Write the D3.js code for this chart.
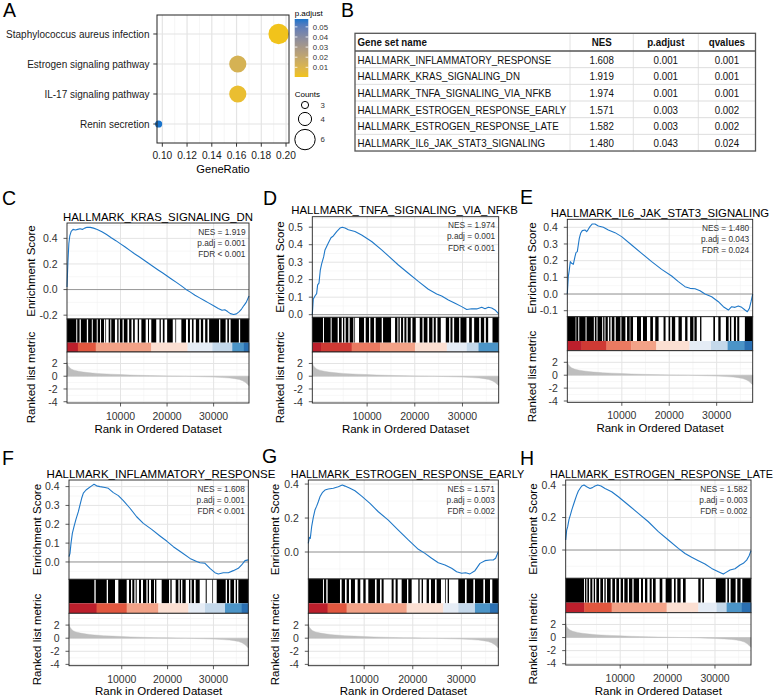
<!DOCTYPE html>
<html>
<head>
<meta charset="utf-8">
<script src="https://cdn.jsdelivr.net/npm/d3@7/dist/d3.min.js"></script>
<style>
html,body{margin:0;padding:0;background:#fff;}
svg{display:block;}
</style>
</head>
<body>
<svg id="fig" width="777" height="697" xmlns="http://www.w3.org/2000/svg"></svg>
<script>
// ======================= DATA =======================
// ---- Panel A : KEGG dot plot ----
const pathways = ["Staphylococcus aureus infection", "Estrogen signaling pathway", "IL-17 signaling pathway", "Renin secretion"];
const geneRatio = [0.194, 0.161, 0.161, 0.097];
const geneCount = [6, 5, 5, 3];
const pAdjust = [0.0004, 0.012, 0.0035, 0.0578];
const geneRatioTicks = [0.10, 0.12, 0.14, 0.16, 0.18, 0.20];
const pAdjustTicks = [0.01, 0.02, 0.03, 0.04, 0.05];
const countLegend = [3, 4, 6];

// ---- Panel B : GSEA table ----
const tableColumns = ["Gene set name", "NES", "p.adjust", "qvalues"];
const tableGeneSets = ["HALLMARK_INFLAMMATORY_RESPONSE", "HALLMARK_KRAS_SIGNALING_DN", "HALLMARK_TNFA_SIGNALING_VIA_NFKB", "HALLMARK_ESTROGEN_RESPONSE_EARLY", "HALLMARK_ESTROGEN_RESPONSE_LATE", "HALLMARK_IL6_JAK_STAT3_SIGNALING"];
const tableNES = ["1.608", "1.919", "1.974", "1.571", "1.582", "1.480"];
const tablePadj = ["0.001", "0.001", "0.001", "0.003", "0.003", "0.043"];
const tableQ = ["0.001", "0.001", "0.001", "0.002", "0.002", "0.024"];

// ---- GSEA plots (shared) ----
const rankDomain = [-1500, 37600];
const rankTicks = [10000, 20000, 30000];
const metricDomain = [-4.2, 3.8];
const metricTicks = [-4, -2, 0, 2];
const rankedMetric = [[-1500,2.2],[-1300,1.7],[-1000,1.4],[-600,1.15],[0,0.95],[1000,0.78],[2000,0.66],[3000,0.57],[4000,0.5],[5000,0.44],[6000,0.39],[8000,0.32],[10000,0.26],[12000,0.2],[14000,0.15],[16000,0.11],[18000,0.08],[20000,0.05],[22000,0.02],[24000,-0.01],[26000,-0.05],[28000,-0.09],[30000,-0.14],[32000,-0.21],[33500,-0.29],[34500,-0.38],[35500,-0.52],[36200,-0.7],[36800,-0.95],[37200,-1.2],[37600,-1.5]];

// ---- Panel C ----
const titleC = "HALLMARK_KRAS_SIGNALING_DN";
const statsC = ["NES = 1.919", "p.adj = 0.001", "FDR < 0.001"];
const esTicksC = [-0.2, 0.0, 0.2, 0.4];
const esDomainC = [-0.23, 0.52];
const esC = [[-1500,0.02],[-1300,0.22],[-1100,0.36],[-900,0.42],[-600,0.455],[-200,0.47],[300,0.465],[800,0.47],[1300,0.475],[1800,0.47],[2300,0.48],[2800,0.487],[3500,0.486],[4200,0.48],[5000,0.47],[6000,0.452],[7000,0.43],[8000,0.405],[9000,0.382],[10000,0.357],[11000,0.333],[12000,0.306],[13000,0.28],[14000,0.256],[15000,0.231],[16000,0.205],[17000,0.18],[18000,0.155],[19000,0.131],[20000,0.106],[21000,0.081],[22000,0.056],[23000,0.031],[24000,0.003],[25000,-0.02],[26000,-0.044],[27000,-0.065],[28000,-0.086],[29000,-0.106],[30000,-0.127],[31000,-0.148],[31800,-0.162],[32400,-0.158],[33000,-0.172],[33600,-0.188],[34300,-0.195],[34900,-0.19],[35500,-0.172],[36000,-0.152],[36500,-0.125],[37000,-0.1],[37600,-0.05]];
const hitsC = [[-1500,490],[700,1200],[1480,2760],[3040,3830],[4040,4890],[5100,5600],[5810,6450],[6740,6880],[7450,7800],[8010,8800],[9290,9580],[9860,10430],[10710,11490],[11850,12350],[12700,13060],[13690,13980],[14480,15400],[15900,16110],[16610,17670],[18380,18660],[19090,19450],[20010,21220],[21790,21930],[23070,24060],[24490,24910],[25340,25690],[26190,26900],[27260,27750],[28180,28680],[29030,31160],[31440,32580],[32940,33290],[33650,35420],[35700,37600]];
const bandBreaksC = [-1500, 840, 4680, 16600, 24400, 29740, 34000, 36490, 37600];
const bandLevelsC = [0, 2, 4, 6, 7, 8, 10, 11];

// ---- Panel D ----
const titleD = "HALLMARK_TNFA_SIGNALING_VIA_NFKB";
const statsD = ["NES = 1.974", "p.adj = 0.001", "FDR < 0.001"];
const esTicksD = [0.0, 0.1, 0.2, 0.3, 0.4, 0.5];
const esDomainD = [-0.015, 0.56];
const esD = [[-1500,0.0],[-1290,0.09],[-940,0.107],[-590,0.12],[-380,0.17],[-100,0.18],[180,0.255],[460,0.29],[670,0.31],[880,0.33],[1160,0.37],[1510,0.39],[1860,0.41],[2420,0.44],[2910,0.45],[3610,0.475],[4310,0.495],[4800,0.5],[5360,0.495],[6060,0.485],[7450,0.475],[8850,0.455],[10950,0.418],[13050,0.37],[14450,0.336],[16550,0.284],[18650,0.237],[20740,0.19],[22840,0.145],[24590,0.118],[25640,0.107],[27040,0.084],[28440,0.065],[29840,0.046],[30890,0.03],[31940,0.034],[32990,0.033],[34040,0.042],[34730,0.034],[35430,0.042],[36130,0.038],[36830,0.027],[37600,0.004]];
const hitsD = [[-1500,740],[950,2350],[2560,3820],[4100,4660],[4940,5220],[5500,6060],[6340,7110],[7320,7460],[8300,9350],[9700,10400],[10680,11450],[11800,13060],[13340,15020],[15860,16350],[16560,16840],[17120,17540],[17820,18240],[18520,19150],[19500,20200],[21040,21600],[21880,22650],[23000,23700],[23980,24400],[24750,25450],[26500,27200],[27480,27900],[28250,29300],[29580,30840],[31400,31960],[32450,33500],[33850,34550],[34900,35390],[36300,37600]];
const bandBreaksD = [-1500, 320, 6760, 12710, 20060, 26710, 30910, 33360, 37600];
const bandLevelsD = [0, 1, 3, 4, 6, 7, 8, 10];

// ---- Panel E ----
const titleE = "HALLMARK_IL6_JAK_STAT3_SIGNALING";
const statsE = ["NES = 1.480", "p.adj = 0.043", "FDR = 0.024"];
const esTicksE = [-0.1, 0.0, 0.1, 0.2, 0.3, 0.4];
const esDomainE = [-0.136, 0.448];
const esE = [[-1500,0.0],[-1290,0.104],[-1080,0.144],[-870,0.194],[-590,0.184],[-230,0.178],[120,0.224],[330,0.248],[610,0.254],[820,0.294],[1030,0.334],[1310,0.364],[1660,0.38],[2230,0.384],[2580,0.374],[2930,0.388],[3280,0.404],[3770,0.42],[4340,0.42],[5040,0.408],[6100,0.4],[7150,0.384],[8560,0.368],[9960,0.344],[12070,0.294],[14180,0.244],[16290,0.194],[18400,0.148],[20510,0.108],[21920,0.074],[23320,0.044],[24380,0.034],[25430,0.032],[26490,0.02],[27540,0.0],[28950,-0.016],[30360,-0.046],[31410,-0.076],[32470,-0.096],[33170,-0.076],[33870,-0.08],[34570,-0.072],[35280,-0.08],[35980,-0.096],[36470,-0.106],[36900,-0.086],[37250,-0.046],[37600,0.0]];
const hitsE = [[-1500,250],[390,810],[1020,2350],[2560,4100],[4310,4660],[4870,5850],[6060,6340],[6550,7040],[7320,7600],[7880,8440],[8720,9700],[9910,10750],[11100,11660],[11800,12360],[13200,14040],[14460,15300],[16000,16560],[17050,17750],[18800,19220],[19850,20200],[20550,21250],[21950,22650],[23350,23840],[24400,25100],[25310,25800],[26500,26780],[29300,29650],[30350,30840],[31960,32520],[32800,33080],[33640,34060],[34340,34760],[35950,37600]];
const bandBreaksE = [-1500, 1510, 6760, 12010, 17260, 24260, 28810, 32310, 35810, 37600];
const bandLevelsE = [0, 1, 3, 4, 6, 7, 8, 10, 11];

// ---- Panel F ----
const titleF = "HALLMARK_INFLAMMATORY_RESPONSE";
const statsF = ["NES = 1.608", "p.adj = 0.001", "FDR < 0.001"];
const esTicksF = [0.0, 0.1, 0.2, 0.3, 0.4];
const esDomainF = [-0.092, 0.435];
const esF = [[-1500,0.028],[-1280,0.046],[-1060,0.1],[-770,0.152],[-410,0.188],[30,0.227],[540,0.267],[900,0.303],[1260,0.338],[1630,0.365],[2210,0.382],[2720,0.391],[3440,0.404],[3950,0.412],[4530,0.404],[5260,0.4],[6350,0.395],[7080,0.391],[8170,0.368],[9260,0.352],[10350,0.326],[11800,0.285],[13250,0.24],[14710,0.205],[16530,0.173],[18340,0.138],[19800,0.111],[21250,0.081],[23070,0.05],[24880,0.019],[26340,0.002],[27060,-0.004],[28150,-0.007],[29240,-0.034],[30330,-0.057],[31060,-0.064],[32150,-0.057],[33240,-0.057],[34330,-0.046],[35420,-0.034],[36150,-0.016],[36880,0.007],[37600,0.011]];
const hitsF = [[-1500,4030],[4320,6720],[7010,8530],[9260,11080],[11590,12020],[12310,12750],[13040,13260],[13770,14200],[14640,15370],[15660,15950],[16380,17040],[17260,17550],[18710,20310],[20600,20890],[21760,22350],[22640,22930],[23220,23950],[24670,24960],[25250,25760],[26130,27000],[28310,28530],[29760,29910],[30710,32670],[32960,33400],[33690,34490],[34850,35140],[35430,37600]];
const bandBreaksF = [-1500, 4530, 11080, 17980, 24530, 28160, 32520, 36160, 37600];
const bandLevelsF = [0, 2, 4, 6, 7, 8, 10, 11];

// ---- Panel G ----
const titleG = "HALLMARK_ESTROGEN_RESPONSE_EARLY";
const statsG = ["NES = 1.571", "p.adj = 0.003", "FDR = 0.002"];
const esTicksG = [0.0, 0.2, 0.4];
const esDomainG = [-0.159, 0.424];
const esG = [[-1500,0.051],[-1290,0.086],[-1090,0.08],[-810,0.149],[-470,0.204],[-130,0.247],[220,0.27],[560,0.296],[900,0.325],[1380,0.349],[1930,0.365],[2620,0.371],[3650,0.375],[4670,0.384],[5500,0.394],[6050,0.388],[7080,0.375],[8100,0.361],[9480,0.329],[11190,0.286],[12910,0.237],[14960,0.188],[17020,0.129],[19080,0.071],[21140,0.016],[22510,-0.008],[23880,-0.037],[25250,-0.063],[26630,-0.076],[28000,-0.096],[29030,-0.116],[30060,-0.125],[30880,-0.122],[31770,-0.129],[32800,-0.11],[33830,-0.067],[34860,-0.051],[35890,-0.047],[36570,-0.047],[37050,-0.037],[37600,0.002]];
const hitsG = [[-1500,1520],[1720,2200],[2480,5020],[5360,6050],[6390,6870],[7280,8100],[8650,9200],[9820,10300],[10850,12220],[12560,13250],[13590,14000],[15650,16060],[16470,16890],[17710,18810],[19080,19770],[21140,21410],[21820,22100],[22850,23330],[23750,24570],[24910,25800],[26630,26760],[27180,27450],[29370,30740],[31090,32460],[32800,34520],[34860,35890],[36370,37600]];
const bandBreaksG = [-1500, 2480, 6390, 18740, 26280, 29370, 32800, 35890, 37600];
const bandLevelsG = [0, 2, 4, 6, 7, 8, 10, 11];

// ---- Panel H ----
const titleH = "HALLMARK_ESTROGEN_RESPONSE_LATE";
const statsH = ["NES = 1.582", "p.adj = 0.003", "FDR = 0.002"];
const esTicksH = [0.0, 0.2, 0.4];
const esDomainH = [-0.174, 0.431];
const esH = [[-1500,0.062],[-1290,0.123],[-1080,0.144],[-800,0.189],[-520,0.215],[-230,0.246],[120,0.277],[470,0.308],[820,0.338],[1170,0.363],[1520,0.379],[1880,0.394],[2370,0.4],[2930,0.39],[3630,0.379],[4130,0.384],[4690,0.394],[5250,0.4],[5950,0.394],[6800,0.379],[8200,0.359],[9610,0.328],[11720,0.277],[13830,0.226],[15940,0.174],[18050,0.113],[20160,0.062],[22270,0.01],[23680,-0.021],[25080,-0.045],[26490,-0.066],[27890,-0.086],[29300,-0.113],[30710,-0.133],[31760,-0.148],[32250,-0.139],[33170,-0.123],[34220,-0.115],[35280,-0.092],[35980,-0.082],[36680,-0.062],[37180,-0.037],[37600,-0.004]];
const hitsH = [[-1500,2370],[2580,2860],[3070,3420],[3700,4120],[4410,4690],[4970,5530],[5810,6370],[6660,6940],[7220,7990],[8340,8900],[9190,9750],[10100,10590],[10870,11580],[11860,12560],[12840,13970],[14390,14810],[15230,15720],[16220,16640],[16920,17480],[18330,18890],[19590,20860],[21350,21700],[22050,22750],[23250,23810],[26480,26970],[27320,27680],[30190,32240],[32600,32950],[33300,34350],[34700,35410],[35760,37600]];
const bandBreaksH = [-1500, 2440, 8200, 19800, 26480, 30350, 32460, 35620, 37600];
const bandLevelsH = [0, 2, 4, 6, 7, 8, 10, 11];

// ======================= STYLE / LAYOUT =======================
const FONT = '"Liberation Sans", Arial, Helvetica, sans-serif';
const TFONT = '"Liberation Sans Narrow", "Arial Narrow", "Liberation Sans", Arial, sans-serif';
const bandPalette = ["#BC1F2C","#CF3A34","#E1573F","#EA7A61","#F2A287","#F8C9B4","#FBDFD2","#E5ECF5","#C4D8EA","#8FBCDB","#4B94C7","#2A6FB1"];
const ES_COLOR = "#1F78C8";
const BORDER = "#222";
const GRID_MAJ = "#E4E4E4", GRID_MIN = "#F1F1F1";
const TICKTXT = "#333";

const svg = d3.select("#fig");
svg.append("rect").attr("width", 777).attr("height", 697).attr("fill", "#fff");

function panelLabel(t, x, y) {
  svg.append("text").attr("x", x).attr("y", y).attr("font-family", FONT)
    .attr("font-size", 19.5).attr("fill", "#000").text(t);
}
panelLabel("A", 3, 17); panelLabel("B", 341, 16.5);
panelLabel("C", 2, 205); panelLabel("D", 263, 205); panelLabel("E", 520, 204);
panelLabel("F", 2, 465); panelLabel("G", 262, 463); panelLabel("H", 520, 465);

// ======================= PANEL A =======================
(function () {
  const A = {x0: 157, x1: 289, y0: 15, y1: 143};
  const g = svg.append("g");
  const x = d3.scaleLinear().domain([0.0957, 0.2024]).range([A.x0, A.x1]);
  const y = d3.scalePoint().domain(pathways).range([A.y0, A.y1]).padding(0.633);
  const r = d3.scaleRadial().domain([3, 6]).range([3.6, 10.2]);
  const col = d3.scaleLinear().domain([d3.min(pAdjust), d3.max(pAdjust)])
    .range(["#F1C31B", "#1A74CC"]).interpolate(d3.interpolateLab);

  g.append("rect").attr("x", A.x0).attr("y", A.y0).attr("width", A.x1 - A.x0).attr("height", A.y1 - A.y0).attr("fill", "#fff");
  const minorX = geneRatioTicks.slice(0, -1).map((t, i) => (t + geneRatioTicks[i + 1]) / 2);
  g.selectAll(".mnx").data(minorX).join("line")
    .attr("x1", d => x(d)).attr("x2", d => x(d)).attr("y1", A.y0).attr("y2", A.y1)
    .attr("stroke", GRID_MIN).attr("stroke-width", 0.7);
  g.selectAll(".mjx").data(geneRatioTicks).join("line")
    .attr("x1", d => x(d)).attr("x2", d => x(d)).attr("y1", A.y0).attr("y2", A.y1)
    .attr("stroke", GRID_MAJ).attr("stroke-width", 1.2);
  g.selectAll(".mjy").data(pathways).join("line")
    .attr("x1", A.x0).attr("x2", A.x1).attr("y1", d => y(d)).attr("y2", d => y(d))
    .attr("stroke", GRID_MAJ).attr("stroke-width", 1.2);

  g.selectAll(".pt").data(pathways).join("circle")
    .attr("cx", (d, i) => x(geneRatio[i])).attr("cy", d => y(d))
    .attr("r", (d, i) => r(geneCount[i])).attr("fill", (d, i) => col(pAdjust[i]));

  g.append("rect").attr("x", A.x0).attr("y", A.y0).attr("width", A.x1 - A.x0).attr("height", A.y1 - A.y0)
    .attr("fill", "none").attr("stroke", BORDER).attr("stroke-width", 1);

  g.selectAll(".ytk").data(pathways).join("line")
    .attr("x1", A.x0 - 3.7).attr("x2", A.x0).attr("y1", d => y(d)).attr("y2", d => y(d)).attr("stroke", "#333");
  g.selectAll(".ylb").data(pathways).join("text")
    .attr("x", A.x0 - 7.5).attr("y", d => y(d) + 3.6).attr("text-anchor", "end")
    .attr("font-family", FONT).attr("font-size", 10).attr("fill", "#1a1a1a").text(d => d);
  g.selectAll(".xtk").data(geneRatioTicks).join("line")
    .attr("x1", d => x(d)).attr("x2", d => x(d)).attr("y1", A.y1).attr("y2", A.y1 + 3.7).attr("stroke", "#333");
  g.selectAll(".xlb").data(geneRatioTicks).join("text")
    .attr("x", d => x(d)).attr("y", A.y1 + 15.8).attr("text-anchor", "middle")
    .attr("font-family", FONT).attr("font-size", 10.2).attr("fill", "#1a1a1a").text(d => d.toFixed(2));
  g.append("text").attr("x", (A.x0 + A.x1) / 2).attr("y", A.y1 + 30).attr("text-anchor", "middle")
    .attr("font-family", FONT).attr("font-size", 11.2).attr("fill", "#000").text("GeneRatio");

  // colour legend
  const cb = {x: 294.7, y0: 19, y1: 77, w: 13.6};
  const yc = d3.scaleLinear().domain(col.domain()).range([cb.y1, cb.y0]);
  const grad = svg.append("defs").append("linearGradient").attr("id", "padjGrad")
    .attr("x1", 0).attr("y1", 1).attr("x2", 0).attr("y2", 0);
  d3.range(0, 1.0001, 0.1).forEach(t => {
    const v = col.domain()[0] + t * (col.domain()[1] - col.domain()[0]);
    grad.append("stop").attr("offset", t).attr("stop-color", col(v));
  });
  g.append("text").attr("x", cb.x).attr("y", 15.5).attr("font-family", FONT).attr("font-size", 8).attr("fill", "#000").text("p.adjust");
  g.append("rect").attr("x", cb.x).attr("y", cb.y0).attr("width", cb.w).attr("height", cb.y1 - cb.y0).attr("fill", "url(#padjGrad)");
  pAdjustTicks.forEach(t => {
    g.append("line").attr("x1", cb.x).attr("x2", cb.x + 2.7).attr("y1", yc(t)).attr("y2", yc(t)).attr("stroke", "#fff").attr("stroke-width", 0.8);
    g.append("line").attr("x1", cb.x + cb.w - 2.7).attr("x2", cb.x + cb.w).attr("y1", yc(t)).attr("y2", yc(t)).attr("stroke", "#fff").attr("stroke-width", 0.8);
    g.append("text").attr("x", cb.x + cb.w + 4.5).attr("y", yc(t) + 2.8).attr("font-family", FONT).attr("font-size", 7.8).attr("fill", "#333").text(t.toFixed(2));
  });

  // size legend
  g.append("text").attr("x", cb.x).attr("y", 96.5).attr("font-family", FONT).attr("font-size", 8).attr("fill", "#000").text("Counts");
  let cy = 105;
  countLegend.forEach((c, i) => {
    if (i > 0) cy += r(countLegend[i - 1]) + 3.8 + r(c);
    g.append("circle").attr("cx", 305).attr("cy", cy).attr("r", r(c)).attr("fill", "#fff").attr("stroke", "#000").attr("stroke-width", 1);
    g.append("text").attr("x", 320.5).attr("y", cy + 2.8).attr("font-family", FONT).attr("font-size", 7.8).attr("fill", "#333").text(c);
  });
})();

// ======================= PANEL B =======================
(function () {
  const T = {x0: 355, x1: 755.5, y0: 33.3, headH: 17.7, rowH: 16.67};
  const colEdges = [355, 570, 633.3, 698.3, 755.5];
  const g = svg.append("g");
  const yEnd = T.y0 + T.headH + tableGeneSets.length * T.rowH;
  const tmp = g.append("text").attr("font-family", TFONT).attr("font-size", 11.8).text(tableGeneSets[0]);
  const w = tmp.node().getComputedTextLength(); tmp.remove();
  const sx = Math.min(1, 194 / w);

  g.append("rect").attr("x", T.x0).attr("y", T.y0).attr("width", T.x1 - T.x0).attr("height", yEnd - T.y0).attr("fill", "#fff");
  tableGeneSets.forEach((s, i) => {
    if (i === 0) return;
    const yy = T.y0 + T.headH + i * T.rowH;
    g.append("line").attr("x1", T.x0).attr("x2", T.x1).attr("y1", yy).attr("y2", yy).attr("stroke", "#d4d4d4").attr("stroke-width", 0.8);
  });
  colEdges.slice(1, -1).forEach(cx => {
    g.append("line").attr("x1", cx).attr("x2", cx).attr("y1", T.y0).attr("y2", yEnd).attr("stroke", "#dadada").attr("stroke-width", 0.8);
  });
  g.append("line").attr("x1", T.x0).attr("x2", T.x1).attr("y1", T.y0 + T.headH).attr("y2", T.y0 + T.headH).attr("stroke", "#555").attr("stroke-width", 1.3);
  g.append("rect").attr("x", T.x0).attr("y", T.y0).attr("width", T.x1 - T.x0).attr("height", yEnd - T.y0)
    .attr("fill", "none").attr("stroke", "#555").attr("stroke-width", 1.3);

  function cell(txt, x, y, anchor, bold) {
    g.append("g").attr("transform", `translate(${x},${y}) scale(${sx},1)`)
      .append("text").attr("x", 0).attr("y", 0).attr("text-anchor", anchor)
      .attr("font-family", TFONT).attr("font-size", 11.8).attr("font-weight", bold ? "bold" : "normal")
      .attr("fill", "#111").text(txt);
  }
  const hy = T.y0 + T.headH / 2 + 4.2;
  tableColumns.forEach((c, j) => {
    if (j === 0) cell(c, colEdges[0] + 2.5, hy, "start", true);
    else cell(c, (colEdges[j] + colEdges[j + 1]) / 2, hy, "middle", true);
  });
  tableGeneSets.forEach((s, i) => {
    const yy = T.y0 + T.headH + i * T.rowH + T.rowH / 2 + 4.2;
    cell(s, colEdges[0] + 2.5, yy, "start", false);
    [tableNES[i], tablePadj[i], tableQ[i]].forEach((v, j) => {
      cell(v, (colEdges[j + 1] + colEdges[j + 2]) / 2, yy, "middle", false);
    });
  });
})();

// ======================= GSEA PANELS =======================
function drawGSEA(L, D) {
  const g = svg.append("g");
  const x = d3.scaleLinear().domain(rankDomain).range([L.x0, L.x1]);
  const yE = d3.scaleLinear().domain(D.esDomain).range([L.esBot, L.esTop]);
  const yR = d3.scaleLinear().domain(metricDomain).range([L.rankBot, L.bandBot]);
  const W = L.x1 - L.x0;
  const minorX = x.ticks(8).filter(t => !rankTicks.includes(t) && t > 0);
  function minors(ticks, dom) {
    const st = ticks[1] - ticks[0];
    const m = [ticks[0] - st / 2].concat(ticks.map(t => t + st / 2));
    return m.filter(v => v > dom[0] && v < dom[1]);
  }
  const fmt1 = v => (Math.abs(v) < 1e-9 ? "0.0" : v.toFixed(1));

  // ---- ES panel ----
  g.append("rect").attr("x", L.x0).attr("y", L.esTop).attr("width", W).attr("height", L.esBot - L.esTop).attr("fill", "#fff");
  const esMinY = minors(D.esTicks, D.esDomain);
  g.selectAll(".emy").data(esMinY).join("line").attr("x1", L.x0).attr("x2", L.x1)
    .attr("y1", d => yE(d)).attr("y2", d => yE(d)).attr("stroke", GRID_MIN).attr("stroke-width", 0.6);
  g.selectAll(".emx").data(minorX).join("line").attr("y1", L.esTop).attr("y2", L.esBot)
    .attr("x1", d => x(d)).attr("x2", d => x(d)).attr("stroke", GRID_MIN).attr("stroke-width", 0.6);
  g.selectAll(".eMy").data(D.esTicks).join("line").attr("x1", L.x0).attr("x2", L.x1)
    .attr("y1", d => yE(d)).attr("y2", d => yE(d)).attr("stroke", GRID_MAJ).attr("stroke-width", 1);
  g.selectAll(".eMx").data(rankTicks).join("line").attr("y1", L.esTop).attr("y2", L.esBot)
    .attr("x1", d => x(d)).attr("x2", d => x(d)).attr("stroke", GRID_MAJ).attr("stroke-width", 1);
  g.append("line").attr("x1", L.x0).attr("x2", L.x1).attr("y1", yE(0)).attr("y2", yE(0))
    .attr("stroke", "#9a9a9a").attr("stroke-width", 1);
  g.append("path").datum(D.es)
    .attr("d", d3.line().x(d => x(d[0])).y(d => yE(d[1])))
    .attr("fill", "none").attr("stroke", ES_COLOR).attr("stroke-width", 1.1).attr("stroke-linejoin", "round");
  g.append("rect").attr("x", L.x0).attr("y", L.esTop).attr("width", W).attr("height", L.esBot - L.esTop)
    .attr("fill", "none").attr("stroke", BORDER).attr("stroke-width", 0.9);
  g.selectAll(".etk").data(D.esTicks).join("line").attr("x1", L.x0 - 3.5).attr("x2", L.x0)
    .attr("y1", d => yE(d)).attr("y2", d => yE(d)).attr("stroke", "#333").attr("stroke-width", 0.8);
  g.selectAll(".elb").data(D.esTicks).join("text").attr("x", L.x0 - 9.5).attr("y", d => yE(d) + 3.8)
    .attr("text-anchor", "end").attr("font-family", FONT).attr("font-size", 10.5).attr("fill", TICKTXT).text(fmt1);
  g.selectAll(".st").data(D.stats).join("text").attr("x", L.x1 - 3.5).attr("y", (d, i) => L.esTop + 11.5 + i * 11.2)
    .attr("text-anchor", "end").attr("font-family", FONT).attr("font-size", 8.3).attr("fill", "#333").text(d => d);
  g.append("text").attr("x", L.titleX).attr("y", L.esTop - 2.5).attr("text-anchor", "middle")
    .attr("font-family", FONT).attr("font-size", L.titleSize).attr("fill", "#000").text(D.title);
  g.append("text").attr("transform", `translate(${L.x0 - L.ylab},${(L.esTop + L.esBot) / 2}) rotate(-90)`)
    .attr("text-anchor", "middle").attr("font-family", FONT).attr("font-size", 11.5).attr("fill", "#000").text("Enrichment Score");

  // ---- hits ----
  g.append("rect").attr("x", L.x0).attr("y", L.esBot).attr("width", W).attr("height", L.bandBot - L.esBot).attr("fill", "#fff");
  g.selectAll(".hit").data(D.hits).join("rect")
    .attr("x", d => x(d[0])).attr("width", d => Math.max(0.7, x(d[1]) - x(d[0])))
    .attr("y", L.esBot).attr("height", L.hitBot - L.esBot).attr("fill", "#000");
  // ---- colour band ----
  g.selectAll(".band").data(D.bandLevels).join("rect")
    .attr("x", (d, i) => x(D.bandBreaks[i])).attr("width", (d, i) => x(D.bandBreaks[i + 1]) - x(D.bandBreaks[i]) + 0.3)
    .attr("y", L.hitBot).attr("height", L.bandBot - L.hitBot).attr("fill", d => bandPalette[d]);
  g.append("rect").attr("x", L.x0).attr("y", L.esBot).attr("width", W).attr("height", L.bandBot - L.esBot)
    .attr("fill", "none").attr("stroke", BORDER).attr("stroke-width", 0.9);

  // ---- ranked list ----
  g.append("rect").attr("x", L.x0).attr("y", L.bandBot).attr("width", W).attr("height", L.rankBot - L.bandBot).attr("fill", "#fff");
  const rMin = minors(metricTicks, metricDomain);
  g.selectAll(".rmy").data(rMin).join("line").attr("x1", L.x0).attr("x2", L.x1)
    .attr("y1", d => yR(d)).attr("y2", d => yR(d)).attr("stroke", GRID_MIN).attr("stroke-width", 0.6);
  g.selectAll(".rmx").data(minorX).join("line").attr("y1", L.bandBot).attr("y2", L.rankBot)
    .attr("x1", d => x(d)).attr("x2", d => x(d)).attr("stroke", GRID_MIN).attr("stroke-width", 0.6);
  g.selectAll(".rMy").data(metricTicks).join("line").attr("x1", L.x0).attr("x2", L.x1)
    .attr("y1", d => yR(d)).attr("y2", d => yR(d)).attr("stroke", GRID_MAJ).attr("stroke-width", 1);
  g.selectAll(".rMx").data(rankTicks).join("line").attr("y1", L.bandBot).attr("y2", L.rankBot)
    .attr("x1", d => x(d)).attr("x2", d => x(d)).attr("stroke", GRID_MAJ).attr("stroke-width", 1);
  g.append("path").datum(rankedMetric)
    .attr("d", d3.area().x(d => x(d[0])).y0(yR(0)).y1(d => yR(d[1])))
    .attr("fill", "#BEBEBE").attr("stroke", "#BEBEBE").attr("stroke-width", 0.4);
  g.append("rect").attr("x", L.x0).attr("y", L.bandBot).attr("width", W).attr("height", L.rankBot - L.bandBot)
    .attr("fill", "none").attr("stroke", BORDER).attr("stroke-width", 0.9);
  g.selectAll(".rtk").data(metricTicks).join("line").attr("x1", L.x0 - 3.5).attr("x2", L.x0)
    .attr("y1", d => yR(d)).attr("y2", d => yR(d)).attr("stroke", "#333").attr("stroke-width", 0.8);
  g.selectAll(".rlb").data(metricTicks).join("text").attr("x", L.x0 - 9.5).attr("y", d => yR(d) + 3.8)
    .attr("text-anchor", "end").attr("font-family", FONT).attr("font-size", 10.5).attr("fill", TICKTXT).text(d => String(d));
  g.selectAll(".xtk").data(rankTicks).join("line").attr("x1", d => x(d)).attr("x2", d => x(d))
    .attr("y1", L.rankBot).attr("y2", L.rankBot + 3.5).attr("stroke", "#333").attr("stroke-width", 0.8);
  g.selectAll(".xlb").data(rankTicks).join("text").attr("x", d => x(d)).attr("y", L.rankBot + 17)
    .attr("text-anchor", "middle").attr("font-family", FONT).attr("font-size", 10.5).attr("fill", TICKTXT).text(d => String(d));
  g.append("text").attr("x", (L.x0 + L.x1) / 2).attr("y", L.rankBot + 29.5).attr("text-anchor", "middle")
    .attr("font-family", FONT).attr("font-size", 11.5).attr("fill", "#000").text("Rank in Ordered Dataset");
  g.append("text").attr("transform", `translate(${L.x0 - L.ylab},${(L.bandBot + L.rankBot) / 2}) rotate(-90)`)
    .attr("text-anchor", "middle").attr("font-family", FONT).attr("font-size", 11.5).attr("fill", "#000").text("Ranked list metric");
}

const layouts = {
  C: {x0: 67, x1: 249, esTop: 223, esBot: 319, hitBot: 342.7, bandBot: 352, rankBot: 403, ylab: 32, titleX: 158, titleSize: 11.4},
  D: {x0: 312.3, x1: 498.7, esTop: 216.7, esBot: 317.3, hitBot: 342.7, bandBot: 352, rankBot: 403, ylab: 28.5, titleX: 404.5, titleSize: 11.4},
  E: {x0: 567.3, x1: 752.7, esTop: 219.3, esBot: 316.7, hitBot: 341, bandBot: 350.7, rankBot: 402.3, ylab: 31.5, titleX: 660, titleSize: 11.35},
  F: {x0: 69, x1: 248.3, esTop: 480, esBot: 579.3, hitBot: 603.3, bandBot: 613.3, rankBot: 665.7, ylab: 28.5, titleX: 161, titleSize: 11.5},
  G: {x0: 308.3, x1: 498.3, esTop: 480, esBot: 579, hitBot: 603.3, bandBot: 613.3, rankBot: 665.7, ylab: 29.5, titleX: 407.5, titleSize: 10.9},
  H: {x0: 565.7, x1: 751, esTop: 480, esBot: 578.3, hitBot: 602.7, bandBot: 612.7, rankBot: 665, ylab: 28.5, titleX: 661.5, titleSize: 10.8}
};

drawGSEA(layouts.C, {title: titleC, stats: statsC, esTicks: esTicksC, esDomain: esDomainC, es: esC, hits: hitsC, bandBreaks: bandBreaksC, bandLevels: bandLevelsC});
drawGSEA(layouts.D, {title: titleD, stats: statsD, esTicks: esTicksD, esDomain: esDomainD, es: esD, hits: hitsD, bandBreaks: bandBreaksD, bandLevels: bandLevelsD});
drawGSEA(layouts.E, {title: titleE, stats: statsE, esTicks: esTicksE, esDomain: esDomainE, es: esE, hits: hitsE, bandBreaks: bandBreaksE, bandLevels: bandLevelsE});
drawGSEA(layouts.F, {title: titleF, stats: statsF, esTicks: esTicksF, esDomain: esDomainF, es: esF, hits: hitsF, bandBreaks: bandBreaksF, bandLevels: bandLevelsF});
drawGSEA(layouts.G, {title: titleG, stats: statsG, esTicks: esTicksG, esDomain: esDomainG, es: esG, hits: hitsG, bandBreaks: bandBreaksG, bandLevels: bandLevelsG});
drawGSEA(layouts.H, {title: titleH, stats: statsH, esTicks: esTicksH, esDomain: esDomainH, es: esH, hits: hitsH, bandBreaks: bandBreaksH, bandLevels: bandLevelsH});
</script>
</body>
</html>
